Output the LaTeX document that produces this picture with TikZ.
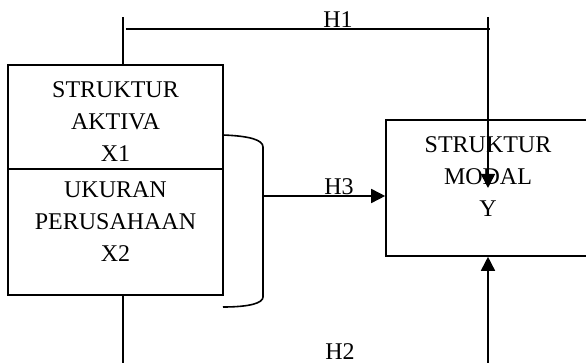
\documentclass[tikz,border=0pt]{standalone}
\usepackage{fontspec}
\setmainfont{Liberation Serif}
\usetikzlibrary{arrows.meta, positioning}

\begin{document}
\begin{tikzpicture}[
  x=0.5pt, y=-0.5pt,
  line width=0.8pt,
  >={Triangle[length=7pt,width=7pt]},
  box/.style={draw, rectangle, inner sep=0pt},
  txt/.style={align=center, inner sep=0pt, font=\fontsize{12}{16}\selectfont},
  hyp/.style={inner sep=0pt, font=\fontsize{12}{14}\selectfont}
]
  \useasboundingbox (0,0) rectangle (586,363);

  % boxes
  \node[box, minimum width=107.5pt, minimum height=52pt] (x1) at (115.5,117) {};
  \node[box, minimum width=107.5pt, minimum height=63pt] (x2) at (115.5,232) {};
  \node[box, minimum width=103pt, minimum height=68pt] (y) at (489,188) {};

  \node[txt] (t1) at (115.5,122) {STRUKTUR\\AKTIVA\\X1};
  \node[txt] (t2) at (115.5,222) {UKURAN\\PERUSAHAAN\\X2};
  \node[txt] (t3) at (488,177) {STRUKTUR\\MODAL\\Y};

  % hypothesis labels
  \node[hyp] (h1) at (338,20) {H1};
  \node[hyp] (h3) at (339,187) {H3};
  \node[hyp] (h2) at (340,352) {H2};

  \coordinate (h1a) at (123,17);
  \coordinate (h1b) at (488,17);
  \coordinate (h1l) at (126,29);
  \coordinate (h1r) at (490,29);
  \coordinate (h1end) at (488,188);
  \coordinate (h2a) at (123,363);
  \coordinate (h2b) at (488,363);
  \coordinate (brk) at (263,196);

  % H1
  \draw (h1a |- x1.north) -- (h1a);
  \draw (h1l) -- (h1r);
  \draw[->] (h1b) -- (h1end);
  % H2
  \draw (h2a |- x2.south) -- (h2a);
  \draw[->] (h2b) -- (h2b |- y.south);
  % bracket and H3
  \draw (223,135) .. controls (250,136) and (263,140) .. (263,147)
    -- (263,297) .. controls (263,303) and (250,307) .. (223,307);
  \draw[->] (brk) -- (brk -| y.west);
\end{tikzpicture}
\end{document}
